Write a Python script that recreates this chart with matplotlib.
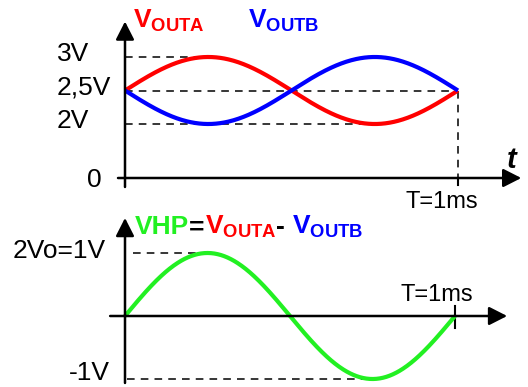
import numpy as np
import matplotlib
matplotlib.use("Agg")
import matplotlib.pyplot as plt
from matplotlib.offsetbox import TextArea, HPacker, AnnotationBbox

plt.rcParams['font.family'] = ['Liberation Sans', 'DejaVu Sans']
plt.rcParams['mathtext.fontset'] = 'custom'
plt.rcParams['mathtext.rm'] = 'Liberation Sans'
plt.rcParams['mathtext.bf'] = 'Liberation Sans:bold'

# signal parameters
periodo = 1.0                      # T = 1 ms
offset = 2.5                       # V
amp_out = 0.5                      # VOUTA / VOUTB swing 2V..3V
amp_hp = 1.0                       # VHP = 2Vo = 1V
niveis_top = [3.0, 2.5, 2.0]
rotulos_top = ['3V', '2,5V', '2V']
rotulos_hp = ['2Vo=1V', '-1V']

RED = '#ff0000'
BLUE = '#0000ff'
GREEN = '#22f022'

t = np.linspace(0, periodo, 400)
vouta = offset + amp_out * np.sin(2 * np.pi * t / periodo)
voutb = offset - amp_out * np.sin(2 * np.pi * t / periodo)
vhp = vouta - voutb

fig = plt.figure(figsize=(5.28, 3.87), dpi=100)
ax1 = fig.add_axes([0, 187 / 387, 1, 200 / 387])
ax2 = fig.add_axes([0, 0, 1, 187 / 387])
for ax in (ax1, ax2):
    ax.set_axis_off()

# ---------- top panel ----------
ax1.set_xlim(-125 / 333, 403 / 333)
ax1.set_ylim(3 - 143 / 67, 3 + 57 / 67)
y0 = 1.194                         # where the "0" axis is drawn (not to scale)
arrow = dict(arrowstyle='-|>,head_length=0.55,head_width=0.28', lw=1.8,
             color='black', shrinkA=0, shrinkB=0, mutation_scale=20)
ax1.annotate('', xy=(0, 3.53), xytext=(0, 1.06), arrowprops=arrow,
             annotation_clip=False)
ax1.annotate('', xy=(1.19, y0), xytext=(-0.021, y0), arrowprops=arrow,
             annotation_clip=False)

dash = dict(color='black', lw=1.1, ls=(0, (5, 4)), clip_on=False)
ax1.plot([0, 0.26], [niveis_top[0]] * 2, **dash)
ax1.plot([0, periodo], [niveis_top[1]] * 2, **dash)
ax1.plot([0, 0.785], [niveis_top[2]] * 2, **dash)
ax1.plot([periodo, periodo], [offset, y0], **dash)
ax1.plot([periodo, periodo], [y0, 1.09], color='black', lw=1.5, clip_on=False)

ax1.plot(t, vouta, color=RED, lw=3, clip_on=False, solid_capstyle='butt')
ax1.plot(t, voutb, color=BLUE, lw=3, clip_on=False, solid_capstyle='butt')

for lv, lab in zip(niveis_top, rotulos_top):
    ax1.text(-0.204, lv + 0.04, lab, fontsize=19, ha='left', va='center')
ax1.text(-0.069, 1.165, '0', fontsize=19, ha='right', va='center')
ax1.text(0.952, 0.84, 'T=1ms', fontsize=17, ha='center', va='center',
         clip_on=False)
ax1.text(1.162, 1.47, 't', fontsize=21, fontweight='bold', style='italic',
         ha='center', va='center')
ax1.text(0.024, 3.433, r'$\mathbf{V_{OUTA}}$', color=RED, fontsize=19,
         ha='left', va='baseline')
ax1.text(0.369, 3.433, r'$\mathbf{V_{OUTB}}$', color=BLUE, fontsize=19,
         ha='left', va='baseline')

# ---------- bottom panel ----------
ax2.set_xlim(-125 / 330, 403 / 330)
ax2.set_ylim(-71 / 63, 116 / 63)
ax2.annotate('', xy=(0, 1.556), xytext=(0, -1.063), arrowprops=arrow,
             annotation_clip=False)
ax2.annotate('', xy=(1.158, 0), xytext=(-0.045, 0), arrowprops=arrow,
             annotation_clip=False)
ax2.plot([periodo, periodo], [0.159, -0.19], color='black', lw=1.5)
ax2.plot([0.024, 0.25], [amp_hp] * 2, **dash)
ax2.plot([0.006, 0.775], [-amp_hp] * 2, **dash)
ax2.plot(t, vhp, color=GREEN, lw=3, solid_capstyle='butt')

ax2.text(-0.058, 1.03, rotulos_hp[0], fontsize=19, ha='right', va='center')
ax2.text(-0.045, -0.9, rotulos_hp[1], fontsize=19, ha='right', va='center')
ax2.text(0.945, 0.33, 'T=1ms', fontsize=17, ha='center', va='center')

partes = [('VHP', GREEN), ('=', 'black'), (r'$\mathbf{V_{OUTA}}$', RED),
          ('- ', 'black'), (r'$\mathbf{V_{OUTB}}$', BLUE)]
caixas = [TextArea(s, textprops=dict(color=c, fontsize=19, fontweight='bold'))
          for s, c in partes]
pack = HPacker(children=caixas, align='baseline', pad=0, sep=0)
ab = AnnotationBbox(pack, (0.03, 1.2), xycoords='data', box_alignment=(0, 0),
                    frameon=False, pad=0, annotation_clip=False)
ax2.add_artist(ab)

fig.savefig('out.png', dpi=100)
